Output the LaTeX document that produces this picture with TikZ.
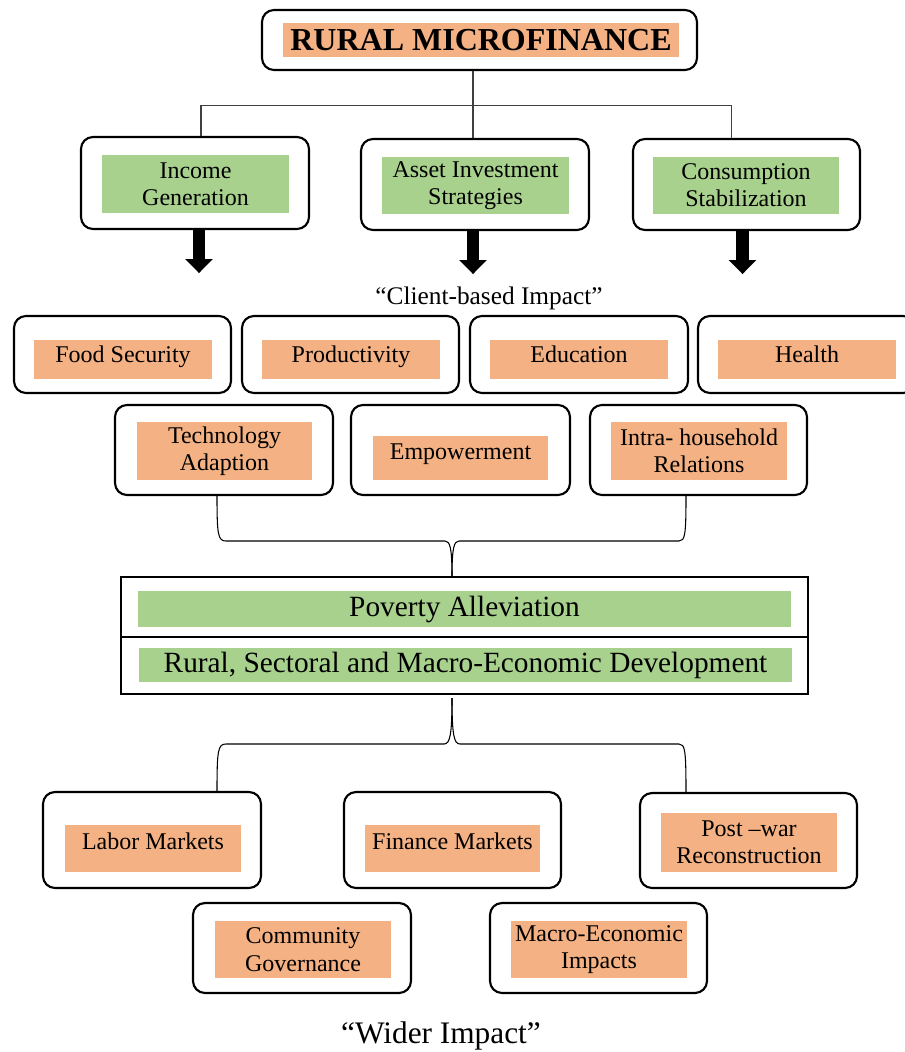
\documentclass[tikz,border=0pt]{standalone}
\usepackage{fontspec}
\setmainfont{Liberation Serif}
\usetikzlibrary{calc, arrows.meta}
\definecolor{boxorange}{HTML}{F4B183}
\definecolor{boxgreen}{HTML}{A9D18E}

\begin{document}
\begin{tikzpicture}[x=0.75pt, y=-0.75pt,
  sz/.style 2 args={minimum width=#1*0.75pt, minimum height=#2*0.75pt},
  outerbox/.style={draw, line width=1.6pt, rounded corners=9pt, inner sep=0pt},
  flatbox/.style={draw, line width=1.6pt, inner sep=0pt},
  greenbox/.style={fill=boxgreen, inner sep=0pt, align=center, font=\fontsize{18}{20.5}\selectfont},
  orangebox/.style={fill=boxorange, inner sep=0pt, align=center, font=\fontsize{18}{20.5}\selectfont},
  bigtext/.style={fill=boxgreen, inner sep=0pt, font=\fontsize{22}{26}\selectfont},
  treeline/.style={draw=black!75, line width=0.8pt},
  braceline/.style={draw, line width=0.8pt},
  bigarrow/.style={line width=9.5pt, -{Triangle[width=20pt,length=10.5pt]}}]
\useasboundingbox (0,0) rectangle (905,1052);

\node[outerbox, sz={435}{60}] (title) at (479.5,40) {};
\node[orangebox, sz={396}{34}, font=\fontsize{24}{28}\selectfont\bfseries] (titleT) at (481,40) {RURAL MICROFINANCE};

\node[outerbox, sz={228}{92}] (inc) at (195,183) {};
\node[greenbox, sz={187}{58}] (incT) at (195.5,184) {Income\\Generation};
\node[outerbox, sz={228}{91}] (asset) at (475,184.5) {};
\node[greenbox, sz={187}{57}] (assetT) at (475.5,185.5) {Asset Investment\\Strategies};
\node[outerbox, sz={227}{91}] (cons) at (746.5,184.5) {};
\node[greenbox, sz={186}{57}] (consT) at (746,185.5) {Consumption\\Stabilization};

\draw[treeline] ($(title.south)+(-6.5,0)$) -- ($(asset.north)+(-2,0)$);
\draw[treeline] ($(inc.north)+(6,0)$) -- ++(0,-30) -| ($(cons.north)+(-15,0)$);

\draw[bigarrow] ($(inc.south)+(4,0)$) -- ++(0,43);
\draw[bigarrow] ($(asset.south)+(-2,0)$) -- ++(0,43);
\draw[bigarrow] ($(cons.south)+(-4,0)$) -- ++(0,43);

\node[font=\fontsize{19}{22}\selectfont] (client) at (489,298) {“Client-based Impact”};

\node[outerbox, sz={217}{77}] (food) at (122.5,354.5) {};
\node[orangebox, sz={178}{39}, text depth=8pt] (foodT) at (123,359.5) {Food Security};
\node[outerbox, sz={217}{77}] (prod) at (350.5,354.5) {};
\node[orangebox, sz={178}{39}, text depth=8pt] (prodT) at (351,359.5) {Productivity};
\node[outerbox, sz={218}{77}] (edu) at (579,354.5) {};
\node[orangebox, sz={178}{39}, text depth=8pt] (eduT) at (579,359.5) {Education};
\node[outerbox, sz={217}{77}] (health) at (806.5,354.5) {};
\node[orangebox, sz={178}{39}, text depth=8pt] (healthT) at (807,359.5) {Health};

\node[outerbox, sz={218}{90}] (tech) at (224,450) {};
\node[orangebox, sz={175}{58}] (techT) at (224.5,451) {Technology\\Adaption};
\node[outerbox, sz={219}{90}] (emp) at (460.5,450) {};
\node[orangebox, sz={175}{44}, text depth=9pt] (empT) at (460.5,458) {Empowerment};
\node[outerbox, sz={217}{90}] (intra) at (698.5,450) {};
\node[orangebox, sz={176}{58}] (intraT) at (699,451) {Intra- household\\Relations};

\node[flatbox, sz={687}{60}] (pov) at (464.5,607) {};
\node[flatbox, sz={687}{57}] (rural) at (464.5,665.5) {};
\node[bigtext, sz={653}{36}] (povT) at (464.5,609) {Poverty Alleviation};
\node[bigtext, sz={653}{34}] (ruralT) at (465.5,665) {Rural, Sectoral and Macro-Economic Development};

\draw[braceline] ($(tech.south)+(-7,0)$) .. controls (217,535) and (218,541) .. (226,541) -- (445,541) .. controls (450,541) and (452,548) .. ($(pov.north)+(-12.5,0)$);
\draw[braceline] ($(pov.north)+(-12.5,0)$) .. controls (452,548) and (454,541) .. (459,541) -- (679,541) .. controls (685,541) and (686,535) .. ($(intra.south)+(-12.5,0)$);

\node[outerbox, sz={218}{96}] (labor) at (152,840) {};
\node[orangebox, sz={176}{47}, text depth=10.5pt] (laborT) at (153,848.5) {Labor Markets};
\node[outerbox, sz={217}{96}] (fin) at (452.5,840) {};
\node[orangebox, sz={175}{47}, text depth=10.5pt] (finT) at (452.5,848.5) {Finance Markets};
\node[outerbox, sz={217}{95}] (post) at (748.5,840.5) {};
\node[orangebox, sz={176}{59}] (postT) at (749,842.5) {Post –war\\Reconstruction};
\node[outerbox, sz={218}{90}] (comm) at (302,948) {};
\node[orangebox, sz={176}{57}] (commT) at (303,949.5) {Community\\Governance};
\node[outerbox, sz={217}{90}] (macro) at (598.5,948) {};
\node[orangebox, sz={176}{57}] (macroT) at (599,949.5) {Macro-Economic\\Impacts};

\draw[braceline] ($(rural.south)+(-12.5,3)$) .. controls (452,735) and (450,744) .. (444,744) -- (226,744) .. controls (218,744) and (217,750) .. ($(labor.north)+(65,0)$);
\draw[braceline] ($(rural.south)+(-12.5,3)$) .. controls (452,735) and (454,744) .. (460,744) -- (679,744) .. controls (685,744) and (686,750) .. ($(post.north)+(-62.5,0)$);

\node[font=\fontsize{23.5}{28}\selectfont] (wider) at (441,1036) {“Wider Impact”};
\end{tikzpicture}
\end{document}
